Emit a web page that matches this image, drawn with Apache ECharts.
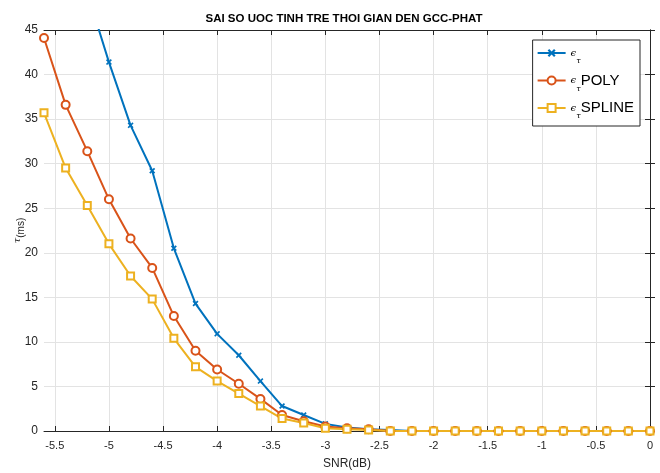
<!DOCTYPE html>
<html>
<head>
<meta charset="utf-8">
<script src="https://cdn.jsdelivr.net/npm/echarts@6/dist/echarts.min.js"></script>
<style>
html, body { margin: 0; padding: 0; background: #fff; }
#chart { width: 660px; height: 473px; }
</style>
</head>
<body>
<div id="chart"></div>
<script>
// du lieu doc tu hinh
var snr = [-5.6, -5.4, -5.2, -5.0, -4.8, -4.6, -4.4, -4.2, -4.0, -3.8, -3.6, -3.4, -3.2, -3.0,
    -2.8, -2.6, -2.4, -2.2, -2.0, -1.8, -1.6, -1.4, -1.2, -1.0, -0.8, -0.6, -0.4, -0.2, 0];
var errPlain = [66, 57, 49.2, 41.4, 34.3, 29.2, 20.5, 14.3, 10.9, 8.5, 5.6, 2.8, 1.8, 0.8,
    0.4, 0.2, 0.1, 0, 0, 0, 0, 0, 0, 0, 0, 0, 0, 0, 0];
var errPoly = [44.1, 36.6, 31.4, 26.0, 21.6, 18.3, 12.9, 9.0, 6.9, 5.3, 3.6, 1.8, 1.1, 0.5,
    0.3, 0.2, 0, 0, 0, 0, 0, 0, 0, 0, 0, 0, 0, 0, 0];
var errSpline = [35.7, 29.5, 25.3, 21.0, 17.4, 14.8, 10.4, 7.2, 5.6, 4.2, 2.8, 1.4, 0.9, 0.3,
    0.2, 0.1, 0, 0, 0, 0, 0, 0, 0, 0, 0, 0, 0, 0, 0];
var xTicks = [-5.5, -5, -4.5, -4, -3.5, -3, -2.5, -2, -1.5, -1, -0.5, 0];

var axisColor = '#262626';
var gridColor = '#e3e3e3';
var narrow = '"Liberation Sans Narrow", "Liberation Sans", Arial, sans-serif';
var crossPath = 'path://M2,0L5,3L8,0L10,2L7,5L10,8L8,10L5,7L2,10L0,8L3,5L0,2Z';

function pair(arr) {
    return snr.map(function (x, i) { return [x, arr[i]]; });
}

var legendText = {
    'e0': '{e|ϵ}{s|τ}',
    'e1': '{e|ϵ}{s|τ}{t|POLY}',
    'e2': '{e|ϵ}{s|τ}{t|SPLINE}'
};

var myChart = echarts.init(document.getElementById('chart'), null, { renderer: 'canvas' });
var option = {
    backgroundColor: '#fff',
    animation: false,
    title: {
        text: 'SAI SO UOC TINH TRE THOI GIAN DEN GCC-PHAT',
        left: 339,
        textAlign: 'center',
        top: 8,
        textStyle: { fontFamily: narrow, fontSize: 11.5, fontWeight: 'bold', color: '#000' }
    },
    grid: { left: 44, right: 10, top: 30, bottom: 42, show: false, outerBoundsMode: 'none', containLabel: false },
    legend: {
        orient: 'vertical',
        right: 20,
        top: 40,
        backgroundColor: '#fff',
        borderColor: axisColor,
        borderWidth: 1,
        borderRadius: 0,
        padding: [8, 6, 6, 4],
        itemWidth: 28,
        itemHeight: 10,
        itemGap: 8,
        data: ['e0', 'e1', 'e2'],
        formatter: function (name) { return legendText[name]; },
        textStyle: {
            color: '#000',
            fontFamily: narrow,
            rich: {
                e: { fontSize: 10, fontStyle: 'italic', color: '#000', fontFamily: 'DejaVu Serif' },
                s: { fontSize: 8, fontStyle: 'italic', color: '#000', padding: [16, 0, 0, 0], fontFamily: 'DejaVu Serif' },
                t: { fontSize: 15, color: '#000', fontFamily: narrow }
            }
        }
    },
    xAxis: [
        {
            type: 'value',
            min: -5.6,
            max: 0,
            name: 'SNR(dB)',
            nameLocation: 'middle',
            nameGap: 27,
            nameTextStyle: { fontFamily: narrow, fontSize: 12, color: axisColor },
            axisLine: { show: true, onZero: false, lineStyle: { color: axisColor, width: 1 } },
            axisTick: { show: true, inside: true, length: 5, customValues: xTicks, lineStyle: { color: axisColor } },
            axisLabel: { customValues: xTicks, fontFamily: narrow, fontSize: 11, color: axisColor, margin: 9 },
            splitLine: { show: true, customValues: xTicks, lineStyle: { color: gridColor, width: 1 } }
        },
        {
            type: 'value',
            position: 'top',
            min: -5.6,
            max: 0,
            axisLine: { show: true, onZero: false, lineStyle: { color: axisColor, width: 1 } },
            axisTick: { show: true, inside: true, length: 5, customValues: xTicks, lineStyle: { color: axisColor } },
            axisLabel: { show: false },
            splitLine: { show: false }
        }
    ],
    yAxis: [
        {
            type: 'value',
            min: 0,
            max: 45,
            interval: 5,
            name: '{t|τ}{s|(ms)}',
            nameLocation: 'middle',
            nameRotate: 90,
            nameGap: 18,
            nameMoveOverlap: false,
            nameTextStyle: {
                color: axisColor,
                rich: {
                    t: { fontSize: 10, fontStyle: 'italic', fontFamily: 'DejaVu Serif', color: axisColor },
                    s: { fontSize: 10, fontFamily: narrow, color: axisColor, padding: [8, 0, 0, 0] }
                }
            },
            axisLine: { show: true, lineStyle: { color: axisColor, width: 1 } },
            axisTick: { show: true, inside: true, length: 5, lineStyle: { color: axisColor } },
            axisLabel: { fontFamily: narrow, fontSize: 12, color: axisColor, margin: 6 },
            splitLine: { show: true, lineStyle: { color: gridColor, width: 1 } }
        },
        {
            type: 'value',
            position: 'right',
            min: 0,
            max: 45,
            interval: 5,
            axisLine: { show: true, lineStyle: { color: axisColor, width: 1 } },
            axisTick: { show: true, inside: true, length: 5, lineStyle: { color: axisColor } },
            axisLabel: { show: false },
            splitLine: { show: false }
        }
    ],
    series: [
        {
            name: 'e0',
            type: 'line',
            clip: true,
            data: pair(errPlain),
            symbol: crossPath,
            symbolSize: 6,
            lineStyle: { color: '#0072BD', width: 2 },
            itemStyle: { color: '#0072BD' }
        },
        {
            name: 'e1',
            type: 'line',
            clip: true,
            data: pair(errPoly),
            symbol: 'emptyCircle',
            symbolSize: 8,
            lineStyle: { color: '#D95319', width: 2 },
            itemStyle: { color: '#D95319', borderWidth: 2 }
        },
        {
            name: 'e2',
            type: 'line',
            clip: true,
            data: pair(errSpline),
            symbol: 'emptyRect',
            symbolSize: 7,
            lineStyle: { color: '#EDB120', width: 2 },
            itemStyle: { color: '#EDB120', borderWidth: 1.5 }
        }
    ]
};
myChart.setOption(option);
</script>
</body>
</html>
